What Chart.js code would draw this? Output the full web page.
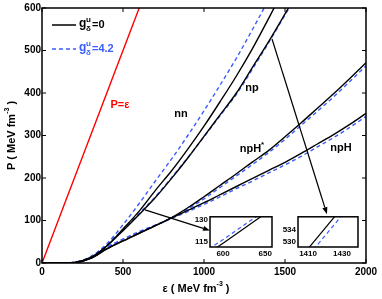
<!DOCTYPE html>
<html>
<head>
<meta charset="utf-8">
<script src="https://cdn.jsdelivr.net/npm/chart.js@4"></script>
<style>
  html, body { margin: 0; padding: 0; background: #fff; }
  #wrap { position: relative; width: 382px; height: 299px; }
  #wrap canvas { position: absolute; }
</style>
</head>
<body>
<div id="wrap">
  <canvas id="main" width="382" height="299" style="left:0;top:0"></canvas>
  <canvas id="inset1" width="90" height="54" style="left:186px;top:210px"></canvas>
  <canvas id="inset2" width="94" height="54" style="left:270px;top:210px"></canvas>
</div>
<script>
// energy density grid (MeV fm^-3)
var energy = [0, 100, 200, 300, 400, 500, 600, 700, 800, 900, 1000,
              1100, 1200, 1300, 1400, 1500, 1600, 1700, 1800, 1900, 2000];

// causal limit P = eps
var causal = [0, 100, 200, 300, 400, 500, 600, null, null, null, null,
              null, null, null, null, null, null, null, null, null, null];

// pressure (MeV fm^-3), g = 0 (black) and g = 4.2 (blue dashed)
var nn0   = [0, 0, 1.5, 13, 40, 80, 122, 171, 217, 268, 322, 380, 440, 505, 576, 650, null, null, null, null, null];
var nn42  = [0, 0, 2, 15, 45, 90, 140, 193, 245, 300, 358, 419, 482, 550, 620, null, null, null, null, null, null];
var np0   = [0, 0, 1, 12, 40, 76, 114.3, 154, 199, 247, 298, 349, 400, 461, 521.5, 586, 652, null, null, null, null];
var np42  = [0, 0, 1.5, 14, 43, 79, 116.7, 156, 201, 248, 297, 347, 397, 457, 519.2, 583.4, 648, null, null, null, null];
var npHs0  = [0, 0, 1, 11, 33, 52, 70, 88, 107, 130, 156, 183, 210, 238, 265, 297, 330, 364, 398, 434, 471];
var npHs42 = [0, 0, 1.5, 13, 37, 56, 74, 89, 106, 127, 151, 178, 205, 232, 260, 291, 324, 357, 391, 427, 464];
var npH0  = [0, 0, 1, 11, 33, 52, 70, 88, 106, 124, 142, 161, 180, 199, 218, 237, 258, 280, 302, 326, 352];
var npH42 = [0, 0, 1.5, 13, 37, 56, 73, 89, 105, 121, 138, 156, 175, 193, 212, 231, 251, 273, 295, 319, 345];

// inset axes
var inset1X = [600, 650];
var inset1Y = [115, 130];
var inset2X = [1410, 1430];
var inset2Y = [530, 534];

var BLUE = '#3a5cff';
var FONT = "'Liberation Sans', Arial, sans-serif";

function toPoints(vals) {
  return energy.map(function(e, i) { return {x: e, y: vals[i]}; })
               .filter(function(p) { return p.y !== null; });
}

function solid(vals, color) {
  return {data: toPoints(vals), borderColor: color || '#000', borderWidth: 1.4,
          pointRadius: 0, fill: false, cubicInterpolationMode: 'monotone'};
}
function dashed(vals) {
  return {data: toPoints(vals), borderColor: BLUE, borderWidth: 1.4, borderDash: [4, 3],
          pointRadius: 0, fill: false, cubicInterpolationMode: 'monotone'};
}

// text placed at data coordinates
var curveLabels = [
  {text: 'nn', x: 858, y: 351},
  {text: 'np', x: 1296, y: 412},
  {text: 'npH', sup: '*', x: 1296, y: 268},
  {text: 'npH', x: 1846, y: 271},
  {text: 'P=\u03b5', x: 481, y: 372, color: '#ff0000'}
];
var arrows = [
  {from: [636, 125], to: [1037, 76.5]},
  {from: [1420, 527], to: [1759, 115]}
];

function plain(v) { return String(v); }

function drawPieces(ctx, pieces, x, y) {
  // pieces: [text, fontSize, dy]
  var cx = x;
  pieces.forEach(function(p) {
    ctx.font = 'bold ' + p[1] + 'px ' + FONT;
    ctx.fillText(p[0], cx, y + p[2]);
    cx += ctx.measureText(p[0]).width;
  });
}
function piecesWidth(ctx, pieces) {
  var w = 0;
  pieces.forEach(function(p) {
    ctx.font = 'bold ' + p[1] + 'px ' + FONT;
    w += ctx.measureText(p[0]).width;
  });
  return w;
}

var framePlugin = {
  id: 'frame',
  afterDatasetsDraw: function(chart) {
    var ctx = chart.ctx, a = chart.chartArea;
    ctx.save();
    ctx.strokeStyle = '#000';
    ctx.lineWidth = 1.5;
    ctx.strokeRect(a.left, a.top, a.right - a.left, a.bottom - a.top);
    if (chart.options.plugins.frame && chart.options.plugins.frame.ticks) {
      var x = chart.scales.x, y = chart.scales.y;
      ctx.lineWidth = 1;
      ctx.beginPath();
      x.ticks.forEach(function(t) {
        var px = x.getPixelForValue(t.value);
        ctx.moveTo(px, a.bottom); ctx.lineTo(px, a.bottom - 4);
        ctx.moveTo(px, a.top); ctx.lineTo(px, a.top + 4);
      });
      y.ticks.forEach(function(t) {
        var py = y.getPixelForValue(t.value);
        ctx.moveTo(a.left, py); ctx.lineTo(a.left + 4, py);
        ctx.moveTo(a.right, py); ctx.lineTo(a.right - 4, py);
      });
      ctx.stroke();
    }
    ctx.restore();
  }
};

var notesPlugin = {
  id: 'notes',
  afterDraw: function(chart) {
    var ctx = chart.ctx, x = chart.scales.x, y = chart.scales.y, a = chart.chartArea;
    ctx.save();
    ctx.textBaseline = 'middle';

    // curve labels
    curveLabels.forEach(function(l) {
      ctx.fillStyle = l.color || '#000';
      var pieces = [[l.text, 11, 0]];
      if (l.sup) pieces.push([l.sup, 8, -4]);
      var w = piecesWidth(ctx, pieces);
      drawPieces(ctx, pieces, x.getPixelForValue(l.x) - w / 2, y.getPixelForValue(l.y));
    });

    // arrows
    ctx.strokeStyle = '#000';
    ctx.fillStyle = '#000';
    ctx.lineWidth = 1.2;
    arrows.forEach(function(ar) {
      var x0 = x.getPixelForValue(ar.from[0]), y0 = y.getPixelForValue(ar.from[1]);
      var x1 = x.getPixelForValue(ar.to[0]), y1 = y.getPixelForValue(ar.to[1]);
      var ang = Math.atan2(y1 - y0, x1 - x0);
      var len = 7, hw = 2.6;
      var bx = x1 - len * Math.cos(ang), by = y1 - len * Math.sin(ang);
      ctx.beginPath();
      ctx.moveTo(x0, y0); ctx.lineTo(bx, by);
      ctx.stroke();
      ctx.beginPath();
      ctx.moveTo(x1, y1);
      ctx.lineTo(bx + hw * Math.sin(ang), by - hw * Math.cos(ang));
      ctx.lineTo(bx - hw * Math.sin(ang), by + hw * Math.cos(ang));
      ctx.closePath();
      ctx.fill();
    });

    // legend
    ctx.lineWidth = 1.5;
    ctx.strokeStyle = '#000';
    ctx.beginPath(); ctx.moveTo(52, 25); ctx.lineTo(76, 25); ctx.stroke();
    ctx.strokeStyle = BLUE;
    ctx.setLineDash([4, 3]);
    ctx.beginPath(); ctx.moveTo(52, 49); ctx.lineTo(76, 49); ctx.stroke();
    ctx.setLineDash([]);
    [['=0', 25, '#000'], ['=4.2', 49, BLUE]].forEach(function(e) {
      ctx.fillStyle = e[2];
      ctx.font = 'bold 12px ' + FONT;
      ctx.fillText('g', 79, e[1] - 1);
      ctx.font = 'bold 8px ' + FONT;
      ctx.fillText('u', 86, e[1] - 5);
      ctx.fillText('\u03b4', 86, e[1] + 4);
      ctx.font = 'bold 11px ' + FONT;
      ctx.fillText(e[0], 92, e[1]);
    });

    // axis titles
    ctx.fillStyle = '#000';
    var title = [['\u03b5 ( MeV fm', 11, 0], ['-3', 7, -5], [' )', 11, 0]];
    var tw = piecesWidth(ctx, title);
    drawPieces(ctx, title, (a.left + a.right) / 2 - tw / 2 - 8, 289);
    var ytitle = [['P ( MeV fm', 11, 0], ['-3', 7, -5], [' )', 11, 0]];
    var yw = piecesWidth(ctx, ytitle);
    ctx.translate(12, (a.top + a.bottom) / 2);
    ctx.rotate(-Math.PI / 2);
    drawPieces(ctx, ytitle, -yw / 2, 0);
    ctx.restore();
  }
};

var tickFont = {family: FONT, size: 10, weight: 'bold'};

new Chart(document.getElementById('main').getContext('2d'), {
  type: 'line',
  data: {
    datasets: [
      solid(causal, '#ff0000'),
      solid(nn0), solid(np0), solid(npHs0), solid(npH0),
      dashed(nn42), dashed(np42), dashed(npHs42), dashed(npH42)
    ]
  },
  options: {
    responsive: false,
    animation: false,
    layout: {padding: {top: 8, right: 16, left: 0, bottom: 0}},
    plugins: {legend: {display: false}, tooltip: {enabled: false}, frame: {ticks: true}},
    scales: {
      x: {
        type: 'linear', min: 0, max: 2000,
        ticks: {stepSize: 500, font: tickFont, color: '#000', padding: 3, maxRotation: 0, callback: plain},
        grid: {display: false, drawTicks: false},
        border: {display: false},
        afterFit: function(s) { s.height = 36; }
      },
      y: {
        type: 'linear', min: 0, max: 600,
        ticks: {stepSize: 100, font: tickFont, color: '#000', padding: 1, callback: plain},
        grid: {display: false, drawTicks: false},
        border: {display: false},
        afterFit: function(s) { s.width = 42; }
      }
    }
  },
  plugins: [framePlugin, notesPlugin]
});

function inset(id, xr, yr, xt, yt, padRight, yWidth) {
  var small = {family: FONT, size: 8, weight: 'bold'};
  var black = solid(np0), blue = dashed(np42);
  black.borderWidth = 1.2; blue.borderWidth = 1.2;
  black.cubicInterpolationMode = 'default'; blue.cubicInterpolationMode = 'default';
  black.tension = 0; blue.tension = 0;
  new Chart(document.getElementById(id).getContext('2d'), {
    type: 'line',
    data: {datasets: [black, blue]},
    options: {
      responsive: false,
      animation: false,
      layout: {padding: {top: 6, right: padRight, left: 0, bottom: 0}},
      plugins: {legend: {display: false}, tooltip: {enabled: false}},
      scales: {
        x: {
          type: 'linear', min: xr[0], max: xr[1],
          afterBuildTicks: function(s) { s.ticks = xt.map(function(v) { return {value: v}; }); },
          ticks: {font: small, color: '#000', padding: 2, maxRotation: 0, autoSkip: false, callback: plain},
          grid: {display: false, drawTicks: false},
          border: {display: false},
          afterFit: function(s) { s.height = 17; }
        },
        y: {
          type: 'linear', min: yr[0], max: yr[1],
          afterBuildTicks: function(s) { s.ticks = yt.map(function(v) { return {value: v}; }); },
          ticks: {font: small, color: '#000', padding: 2, autoSkip: false, callback: plain},
          grid: {display: false, drawTicks: false},
          border: {display: false},
          afterFit: function(s) { s.width = yWidth; }
        }
      }
    },
    plugins: [{id: 'bg', beforeDraw: function(c) {
      var a = c.chartArea;
      c.ctx.save(); c.ctx.fillStyle = '#fff';
      c.ctx.fillRect(a.left, a.top, a.right - a.left, a.bottom - a.top);
      c.ctx.restore();
    }}, framePlugin]
  });
}

inset('inset1', [584.5, 658], [111.7, 132], inset1X, inset1Y, 4, 24);
inset('inset2', [1404.1, 1439.4], [528.5, 538], inset2X, inset2Y, 6, 28);
</script>
</body>
</html>
